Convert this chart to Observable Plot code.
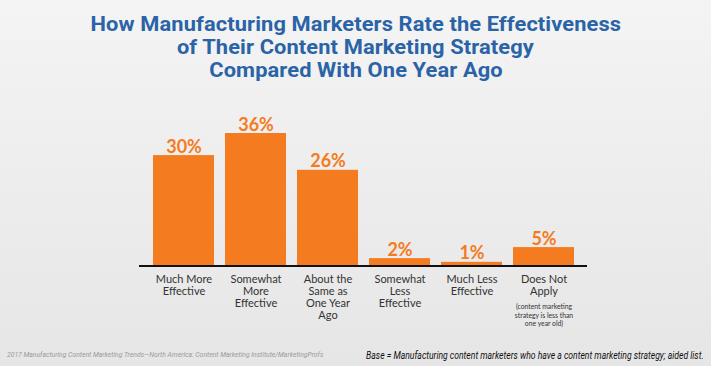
<!DOCTYPE html>
<html><head><meta charset="utf-8">
<script src="https://cdn.jsdelivr.net/npm/d3@7"></script>
<script src="https://cdn.jsdelivr.net/npm/@observablehq/plot@0.6"></script>
<style>
html,body{margin:0;padding:0;}
body{width:711px;height:366px;overflow:hidden;position:relative;background:linear-gradient(#f4f4f4,#e6e6e6);font-family:Roboto,sans-serif;}
#title{height:90px;box-sizing:border-box;padding-top:13px;text-align:center;color:#2a63a6;font-family:Roboto,sans-serif;font-weight:700;font-size:19.5px;line-height:23px;letter-spacing:0.1px;}
#title div{height:23px;}
#title span{display:inline-block;transform:scaleX(1.12);white-space:nowrap;}
#chart{height:250px;}
#chart svg{display:block;}
.foot{position:absolute;top:350px;font-style:italic;white-space:nowrap;}
#src{left:7px;font-size:8px;color:#9a9a9a;font-family:Roboto,sans-serif;transform-origin:left center;transform:scaleX(0.85);}
#base{right:7px;font-size:10.5px;color:#111;font-family:Roboto,sans-serif;transform-origin:right center;transform:scaleX(0.82);top:349px;}
</style>
</head><body>
<div id="title"></div>
<div id="chart"></div>
<div class="foot" id="src"></div>
<div class="foot" id="base"></div>
<script>
const titleLines = ["How Manufacturing Marketers Rate the Effectiveness", "of Their Content Marketing Strategy", "Compared With One Year Ago"];
const categories = ["Much More\nEffective", "Somewhat\nMore\nEffective", "About the\nSame as\nOne Year\nAgo", "Somewhat\nLess\nEffective", "Much Less\nEffective", "Does Not\nApply"];
const values = [30, 36, 26, 2, 1, 5];
const noteCategory = "Does Not\nApply";
const noteText = "(content marketing\nstrategy is less than\none year old)";
const sourceText = "2017 Manufacturing Content Marketing Trends\u2014North America: Content Marketing Institute/MarketingProfs";
const baseText = "Base = Manufacturing content marketers who have a content marketing strategy; aided list.";

const t = document.getElementById("title");
titleLines.forEach(l => { const d = document.createElement("div"); const s = document.createElement("span"); s.textContent = l; d.appendChild(s); t.appendChild(d); });
document.getElementById("src").textContent = sourceText;
document.getElementById("base").textContent = baseText;

const data = categories.map((c, i) => ({cat: c, value: values[i]}));
const orange = "#f47b20";

const plot = Plot.plot({
  width: 711,
  height: 250,
  marginTop: 43,
  marginBottom: 74.5,
  marginLeft: 139,
  marginRight: 124,
  x: {domain: categories, padding: 0.155, axis: null},
  y: {domain: [0, 36], axis: null},
  style: {background: "transparent", overflow: "visible"},
  marks: [
    Plot.barY(data, {x: "cat", y: "value", fill: orange}),
    Plot.ruleY([0], {stroke: "#111", strokeWidth: 2}),
    Plot.text(data, {x: "cat", y: "value", text: d => d.value + "%", lineAnchor: "bottom", dy: -3, fill: orange, fontSize: 18, fontWeight: "bold", fontFamily: "Lato"}),
    Plot.text(data, {x: "cat", y: 0, text: "cat", lineAnchor: "top", dy: 8.2, fontSize: 11, lineHeight: 1.09, fill: "#333", fontFamily: "Lato"}),
    Plot.text([noteText], {x: () => noteCategory, y: () => 0, text: d => d, lineAnchor: "top", dy: 37, fontSize: 6.8, lineHeight: 1.25, fill: "#333", fontFamily: "Lato"})
  ]
});
document.getElementById("chart").appendChild(plot);
</script>
</body></html>
